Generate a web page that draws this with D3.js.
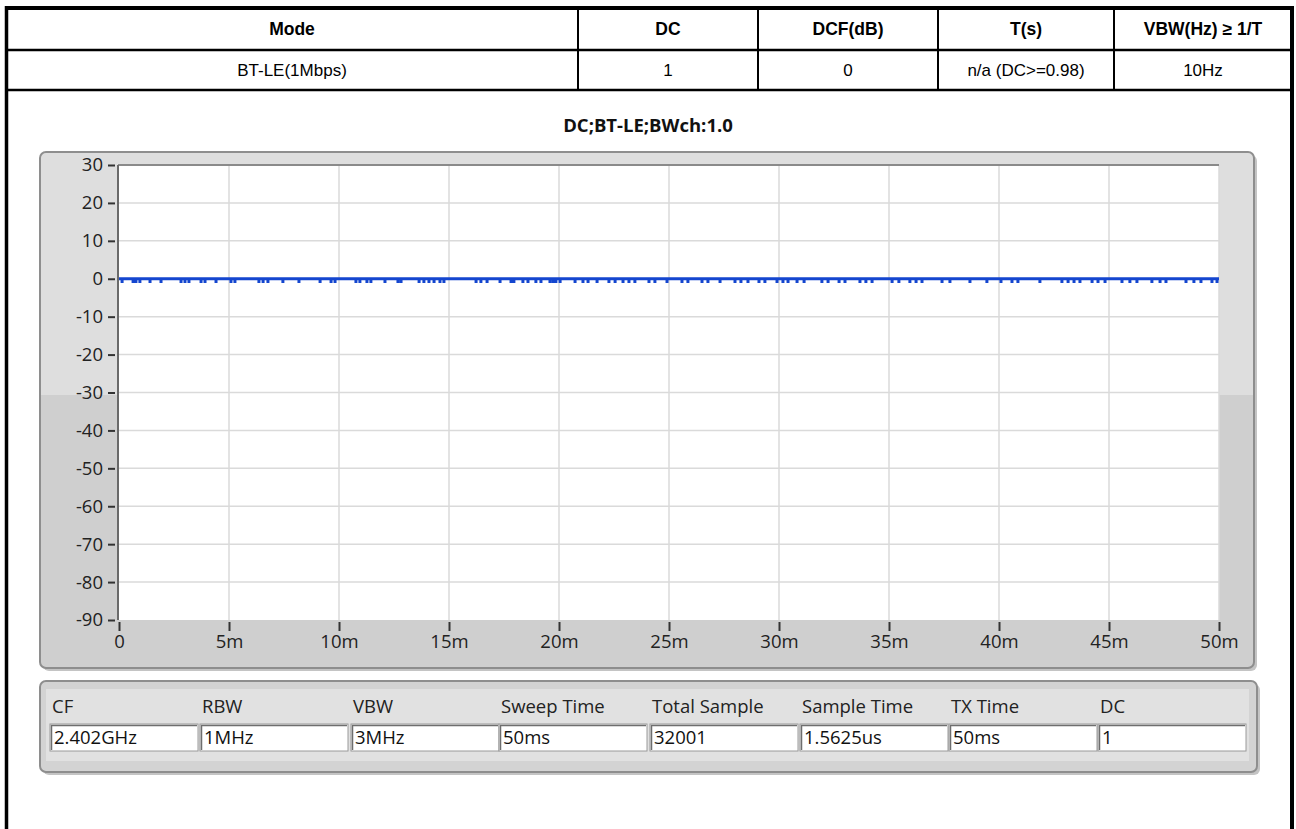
<!DOCTYPE html>
<html>
<head>
<meta charset="utf-8">
<script src="https://cdn.jsdelivr.net/npm/d3@7"></script>
<style>
  html, body { margin: 0; padding: 0; background: #ffffff; }
  svg { display: block; }
</style>
</head>
<body>
<div id="chart"></div>
<script>
// ---------------- DATA ----------------
const tableHeaders = ["Mode", "DC", "DCF(dB)", "T(s)", "VBW(Hz) \u2265 1/T"];
const tableRow = ["BT-LE(1Mbps)", "1", "0", "n/a (DC>=0.98)", "10Hz"];

const chartTitle = "DC;BT-LE;BWch:1.0";
const yTicks = [30, 20, 10, 0, -10, -20, -30, -40, -50, -60, -70, -80, -90];
const xTicks = [0, 5, 10, 15, 20, 25, 30, 35, 40, 45, 50];
const xTickLabels = ["0", "5m", "10m", "15m", "20m", "25m", "30m", "35m", "40m", "45m", "50m"];

// trace: flat level (dB) with short dips (times in ms)
const traceLevel = 0;
const dipLevel = -1.1;
const dipTimes = [0.14, 0.64, 0.77, 0.95, 1.41, 1.91, 2.82, 3.0, 3.18, 3.73, 3.91, 4.41,
  5.09, 5.27, 6.36, 6.55, 6.77, 7.45, 8.18, 9.14, 9.64, 9.82, 10.77, 10.95, 11.27, 11.45,
  12.09, 12.68, 12.82, 13.64, 13.86, 14.09, 14.32, 14.59, 14.77, 16.23, 16.45, 16.73,
  17.32, 17.82, 17.95, 18.36, 18.59, 18.95, 19.18, 19.59, 19.73, 19.86, 20.05, 20.73,
  21.09, 21.32, 21.73, 22.27, 22.55, 22.91, 23.18, 23.45, 24.09, 24.36, 24.91, 25.59,
  25.86, 26.5, 26.77, 27.32, 28.0, 28.27, 28.59, 29.09, 29.36, 29.91, 30.18, 30.41,
  30.82, 31.14, 31.95, 32.23, 32.73, 33.0, 33.68, 33.95, 34.23, 35.14, 35.45, 35.95,
  36.23, 36.5, 37.41, 37.77, 38.68, 39.45, 40.09, 40.59, 40.86, 41.86, 42.86, 43.14,
  43.41, 43.68, 44.23, 44.5, 44.82, 45.59, 45.95, 46.27, 46.95, 47.32, 47.59, 48.5,
  48.86, 49.18, 49.68, 49.91];

const infoLabels = ["CF", "RBW", "VBW", "Sweep Time", "Total Sample", "Sample Time", "TX Time", "DC"];
const infoValues = ["2.402GHz", "1MHz", "3MHz", "50ms", "32001", "1.5625us", "50ms", "1"];

// ---------------- LAYOUT ----------------
const W = 1296, H = 829;
const svg = d3.select("#chart").append("svg").attr("width", W).attr("height", H);
const uiFont = "'Open Sans', 'Noto Sans', sans-serif";
const tblFont = "'Liberation Sans', Arial, sans-serif";

// ---------- table ----------
const colEdges = [6, 578, 758, 938, 1114, 1292];
const tbl = svg.append("g");
const colCenter = i => (colEdges[i] + colEdges[i + 1]) / 2;
tbl.selectAll("text.h").data(tableHeaders).join("text")
  .attr("x", (d, i) => colCenter(i)).attr("y", 35)
  .attr("text-anchor", "middle").attr("font-family", tblFont)
  .attr("font-weight", "bold").attr("font-size", 17.5).attr("fill", "#000")
  .text(d => d);
tbl.selectAll("text.r").data(tableRow).join("text")
  .attr("x", (d, i) => colCenter(i)).attr("y", 76)
  .attr("text-anchor", "middle").attr("font-family", tblFont)
  .attr("font-size", 17).attr("fill", "#000")
  .text(d => d);
// lines
tbl.append("line").attr("x1", 5).attr("x2", 1294).attr("y1", 8).attr("y2", 8).attr("stroke", "#000").attr("stroke-width", 4);
tbl.append("line").attr("x1", 5).attr("x2", 1294).attr("y1", 50).attr("y2", 50).attr("stroke", "#000").attr("stroke-width", 2.5);
tbl.append("line").attr("x1", 5).attr("x2", 1294).attr("y1", 90).attr("y2", 90).attr("stroke", "#000").attr("stroke-width", 2.5);
tbl.append("line").attr("x1", 6.5).attr("x2", 6.5).attr("y1", 6).attr("y2", H).attr("stroke", "#000").attr("stroke-width", 3.5);
tbl.append("line").attr("x1", 1292).attr("x2", 1292).attr("y1", 6).attr("y2", H).attr("stroke", "#000").attr("stroke-width", 4);
tbl.selectAll("line.c").data(colEdges.slice(1, -1)).join("line")
  .attr("x1", d => d).attr("x2", d => d).attr("y1", 8).attr("y2", 90)
  .attr("stroke", "#000").attr("stroke-width", 2);

// ---------- chart panel ----------
const defs = svg.append("defs");
const grad = defs.append("linearGradient").attr("id", "panelGrad")
  .attr("x1", 0).attr("y1", 0).attr("x2", 0).attr("y2", 1);
grad.append("stop").attr("offset", "0%").attr("stop-color", "#dedede");
grad.append("stop").attr("offset", "47%").attr("stop-color", "#dedede");
grad.append("stop").attr("offset", "47%").attr("stop-color", "#cfcfcf");
grad.append("stop").attr("offset", "100%").attr("stop-color", "#cfcfcf");

const panel = { x: 40, y: 152, w: 1214, h: 516 };
svg.append("rect").attr("x", panel.x + 3).attr("y", panel.y + 3)
  .attr("width", panel.w).attr("height", panel.h).attr("rx", 6)
  .attr("fill", "#c4c4c4");
svg.append("rect").attr("x", panel.x).attr("y", panel.y)
  .attr("width", panel.w).attr("height", panel.h).attr("rx", 6)
  .attr("fill", "url(#panelGrad)").attr("stroke", "#8e8e8e").attr("stroke-width", 2);

svg.append("text").attr("x", 648).attr("y", 132)
  .attr("text-anchor", "middle").attr("font-family", uiFont)
  .attr("font-weight", "bold").attr("font-size", 18.5).attr("fill", "#111")
  .text(chartTitle);

// plot
const x = d3.scaleLinear().domain([0, 50]).range([119, 1219]);
const y = d3.scaleLinear().domain([-90, 30]).range([620, 165]);

svg.append("rect").attr("x", x(0)).attr("y", y(30))
  .attr("width", x(50) - x(0)).attr("height", y(-90) - y(30)).attr("fill", "#ffffff");

// grid
svg.append("g").selectAll("line").data(xTicks.slice(1)).join("line")
  .attr("x1", d => x(d)).attr("x2", d => x(d)).attr("y1", y(30)).attr("y2", y(-90))
  .attr("stroke", "#dadada").attr("stroke-width", 1.5);
svg.append("g").selectAll("line").data(yTicks.slice(1, -1)).join("line")
  .attr("x1", x(0)).attr("x2", x(50)).attr("y1", d => y(d)).attr("y2", d => y(d))
  .attr("stroke", "#dadada").attr("stroke-width", 1.5);

// plot borders
svg.append("line").attr("x1", x(0) - 1).attr("x2", x(50)).attr("y1", y(30)).attr("y2", y(30))
  .attr("stroke", "#8a8a8a").attr("stroke-width", 2);
svg.append("line").attr("x1", x(0) - 1).attr("x2", x(0) - 1).attr("y1", y(30)).attr("y2", y(-90))
  .attr("stroke", "#6a6a6a").attr("stroke-width", 2);

// y axis
const yAxis = d3.axisLeft(y).tickValues(yTicks).tickSize(7).tickPadding(5).tickFormat(d => String(d));
const gy = svg.append("g").attr("transform", `translate(${x(0) - 4},0)`).call(yAxis);
gy.select(".domain").remove();
gy.selectAll(".tick line").attr("stroke", "#333").attr("stroke-width", 2);
gy.selectAll(".tick text").attr("font-family", uiFont).attr("font-size", 18.5).attr("fill", "#222");

// x axis
const xAxis = d3.axisBottom(x).tickValues(xTicks).tickSize(9).tickPadding(4)
  .tickFormat((d, i) => xTickLabels[i]);
const gx = svg.append("g").attr("transform", `translate(0,${y(-90) + 2})`).call(xAxis);
gx.select(".domain").remove();
gx.selectAll(".tick line").attr("stroke", "#333").attr("stroke-width", 2);
gx.selectAll(".tick text").attr("font-family", uiFont).attr("font-size", 18.5).attr("fill", "#222");

// trace
const pts = [[0, traceLevel]];
dipTimes.forEach(t => { pts.push([t, traceLevel], [t, dipLevel], [t, traceLevel]); });
pts.push([50, traceLevel]);
svg.append("path").datum(pts)
  .attr("fill", "none").attr("stroke", "#1446cf").attr("stroke-width", 3)
  .attr("stroke-linejoin", "miter").attr("stroke-miterlimit", 1)
  .attr("d", d3.line().x(d => x(d[0])).y(d => y(d[1])));

// ---------- info panel ----------
const ip = { x: 40, y: 681, w: 1217, h: 91 };
svg.append("rect").attr("x", ip.x + 3).attr("y", ip.y + 3).attr("width", ip.w).attr("height", ip.h)
  .attr("rx", 6).attr("fill", "#c4c4c4");
svg.append("rect").attr("x", ip.x).attr("y", ip.y).attr("width", ip.w).attr("height", ip.h)
  .attr("rx", 6).attr("fill", "#d3d3d3").attr("stroke", "#8e8e8e").attr("stroke-width", 2);
svg.append("rect").attr("x", ip.x + 6).attr("y", ip.y + 8).attr("width", ip.w - 14).attr("height", 72)
  .attr("fill", "#e1e1e1");

const boxX = [50, 200, 351, 499, 650, 800, 949, 1098];
const boxW = 148;
const ig = svg.append("g");
ig.selectAll("text.l").data(infoLabels).join("text")
  .attr("x", (d, i) => boxX[i] + 2).attr("y", 713)
  .attr("font-family", uiFont).attr("font-size", 18.5).attr("fill", "#222")
  .text(d => d);
const boxes = ig.selectAll("g.b").data(infoValues).join("g")
  .attr("transform", (d, i) => `translate(${boxX[i]},724)`);
boxes.append("rect").attr("width", boxW).attr("height", 27).attr("fill", "#ffffff")
  .attr("stroke", "#9a9a9a").attr("stroke-width", 1);
boxes.append("path").attr("d", `M1.5,26 V1.5 H${boxW - 1}`).attr("fill", "none")
  .attr("stroke", "#6e6e6e").attr("stroke-width", 1.5);
boxes.append("text").attr("x", 4).attr("y", 20)
  .attr("font-family", uiFont).attr("font-size", 18.5).attr("fill", "#111")
  .text(d => d);
</script>
</body>
</html>
